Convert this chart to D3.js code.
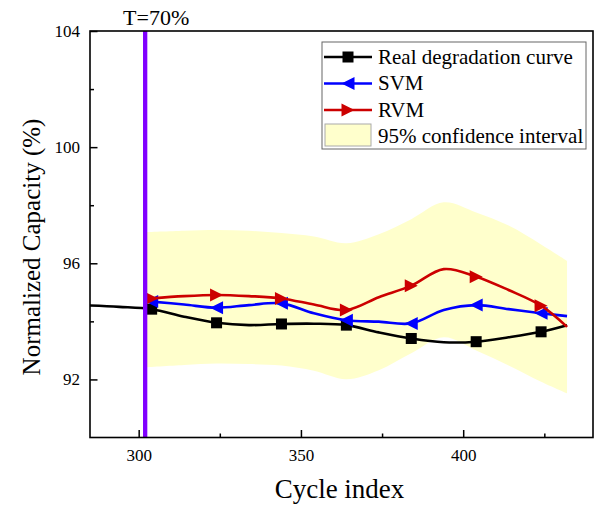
<!DOCTYPE html>
<html><head><meta charset="utf-8">
<script src="https://cdn.jsdelivr.net/npm/d3@7/dist/d3.min.js"></script>
<style>body{margin:0;background:#fff}svg{display:block}text{font-family:"Liberation Serif","Times New Roman",serif;fill:#000}</style>
</head><body>
<svg id="chart" width="598" height="508"></svg>
<script>
// ---- data ----
const cycles = [284,294,304,314,324,334,344,354,364,374,384,394,404,414,424,432];
const realCurve = [94.55,94.50,94.42,94.16,93.95,93.87,93.91,93.92,93.87,93.62,93.41,93.28,93.30,93.45,93.64,93.87];
const modelCycles = [304,314,324,334,344,354,364,374,384,394,404,414,424,432];
const svmValues = [94.68,94.58,94.47,94.56,94.62,94.28,94.04,93.99,93.93,94.39,94.56,94.42,94.28,94.18];
const rvmValues = [94.79,94.87,94.91,94.87,94.79,94.58,94.39,94.83,95.23,95.80,95.54,95.08,94.54,93.81];
const markerCycles = [304,324,344,364,384,404,424];
const bandCycles = [302,314,324,334,344,354,364,374,384,394,404,414,424,432];
const bandUpper = [97.07,97.12,97.15,97.12,97.04,96.92,96.69,97.00,97.52,98.10,97.75,97.30,96.65,96.08];
const bandLower = [92.42,92.50,92.55,92.53,92.48,92.30,92.01,92.32,92.90,93.45,93.00,92.48,91.92,91.52];
const thresholdCycle = 302;
const thresholdLabel = "T=70%";
const xMajorTicks = [300,350,400];
const xMinorTicks = [325,375,425];
const yMajorTicks = [92,96,100,104];
const yMinorTicks = [94,98,102];
const xDomain = [285,440];
const yDomain = [90,104];
const legendItems = ["Real degradation curve","SVM","RVM","95% confidence interval"];

// ---- layout ----
const svg = d3.select("#chart");
const m = {left:90, top:31, right:5, bottom:70.5};
const W = 598 - m.left - m.right, H = 508 - m.top - m.bottom;
const x = d3.scaleLinear().domain(xDomain).range([0, W]);
const y = d3.scaleLinear().domain(yDomain).range([H, 0]);
const g = svg.append("g").attr("transform",`translate(${m.left},${m.top})`);

svg.append("defs").append("clipPath").attr("id","clip")
  .append("rect").attr("width",W).attr("height",H);

const plot = g.append("g").attr("clip-path","url(#clip)");

// band
const band = bandCycles.map((c,i)=>({c, u:bandUpper[i], l:bandLower[i]}));
plot.append("path").datum(band)
  .attr("fill","#ffffcc").attr("stroke","none")
  .attr("d", d3.area().x(d=>x(d.c)).y0(d=>y(d.l)).y1(d=>y(d.u)).curve(d3.curveCatmullRom.alpha(0.5)));

const lineGen = d3.line().x(d=>x(d.c)).y(d=>y(d.v)).curve(d3.curveCatmullRom.alpha(0.5));

function triPath(dir, s){ // dir: -1 left, 1 right
  return dir<0 ? `M${-s},0L${s},${-s}L${s},${s}Z` : `M${s},0L${-s},${-s}L${-s},${s}Z`;
}

const series = [
  {cx:cycles, vals:realCurve, color:"#000000", marker:"square"},
  {cx:modelCycles, vals:svmValues, color:"#0000ff", marker:"left"},
  {cx:modelCycles, vals:rvmValues, color:"#cc0000", marker:"right"}
];
series.forEach(s=>{
  const data = s.cx.map((c,i)=>({c, v:s.vals[i]}));
  plot.append("path").datum(data).attr("fill","none").attr("stroke",s.color)
    .attr("stroke-width",2.6).attr("d",lineGen);
  const pts = data.filter(d=>markerCycles.includes(d.c));
  const mk = plot.selectAll(null).data(pts).enter().append("g")
    .attr("transform",d=>`translate(${x(d.c)},${y(d.v)})`);
  if(s.marker==="square"){
    mk.append("rect").attr("x",-5.5).attr("y",-5.5).attr("width",11).attr("height",11).attr("fill",s.color);
  } else {
    mk.append("path").attr("d",triPath(s.marker==="left"?-1:1,6.5)).attr("fill",s.color);
  }
});

// threshold line
g.append("line").attr("x1",x(thresholdCycle)).attr("x2",x(thresholdCycle))
  .attr("y1",0).attr("y2",H).attr("stroke","#8000ff").attr("stroke-width",4.3);
svg.append("text").attr("x",m.left+x(thresholdCycle)+11).attr("y",25)
  .attr("text-anchor","middle").attr("font-size",22).text(thresholdLabel);

// axes
const xAx = g.append("g").attr("transform",`translate(0,${H})`)
  .call(d3.axisBottom(x).tickValues(xMajorTicks).tickSizeInner(-7.5).tickSizeOuter(0).tickPadding(11).tickFormat(d3.format("d")));
g.append("g").attr("transform",`translate(0,${H})`)
  .call(d3.axisBottom(x).tickValues(xMinorTicks).tickSizeInner(-4).tickSizeOuter(0).tickFormat(""));
const yAx = g.append("g")
  .call(d3.axisLeft(y).tickValues(yMajorTicks).tickSizeInner(-7.5).tickSizeOuter(0).tickPadding(10).tickFormat(d3.format("d")));
g.append("g").call(d3.axisLeft(y).tickValues(yMinorTicks).tickSizeInner(-4).tickSizeOuter(0).tickFormat(""));
g.selectAll(".domain").remove();
g.selectAll(".tick line").attr("stroke","#000").attr("stroke-width",1.5);
g.selectAll(".tick text").attr("font-size",17).attr("font-family",'"Liberation Serif","Times New Roman",serif').attr("fill","#000");

// frame
g.append("rect").attr("width",W).attr("height",H).attr("fill","none").attr("stroke","#000").attr("stroke-width",1.6);

// axis titles
svg.append("text").attr("x",m.left+W/2-2).attr("y",498).attr("text-anchor","middle")
  .attr("font-size",27).text("Cycle index");
svg.append("text").attr("transform",`translate(40,${247}) rotate(-90)`).attr("text-anchor","middle")
  .attr("font-size",25).text("Normalized Capacity (%)");

// legend
const lg = svg.append("g");
lg.append("rect").attr("x",322).attr("y",42).attr("width",264).attr("height",107)
  .attr("fill","#fff").attr("stroke","#666").attr("stroke-width",1);
const rowY = [57,83.5,110,136];
legendItems.forEach((t,i)=>{
  const cy = rowY[i];
  if(i<3){
    const s = series[i];
    lg.append("line").attr("x1",324).attr("x2",372).attr("y1",cy).attr("y2",cy)
      .attr("stroke",s.color).attr("stroke-width",2.6);
    if(s.marker==="square") lg.append("rect").attr("x",342.5).attr("y",cy-5.5).attr("width",11).attr("height",11).attr("fill",s.color);
    else lg.append("path").attr("transform",`translate(348,${cy})`).attr("d",triPath(s.marker==="left"?-1:1,6.5)).attr("fill",s.color);
  } else {
    lg.append("rect").attr("x",325).attr("y",124).attr("width",46).attr("height",22)
      .attr("fill","#ffffcc").attr("stroke","#aaa").attr("stroke-width",1);
  }
  lg.append("text").attr("x",378).attr("y",cy+6.5).attr("font-size",21).text(t);
});
</script>
</body></html>
